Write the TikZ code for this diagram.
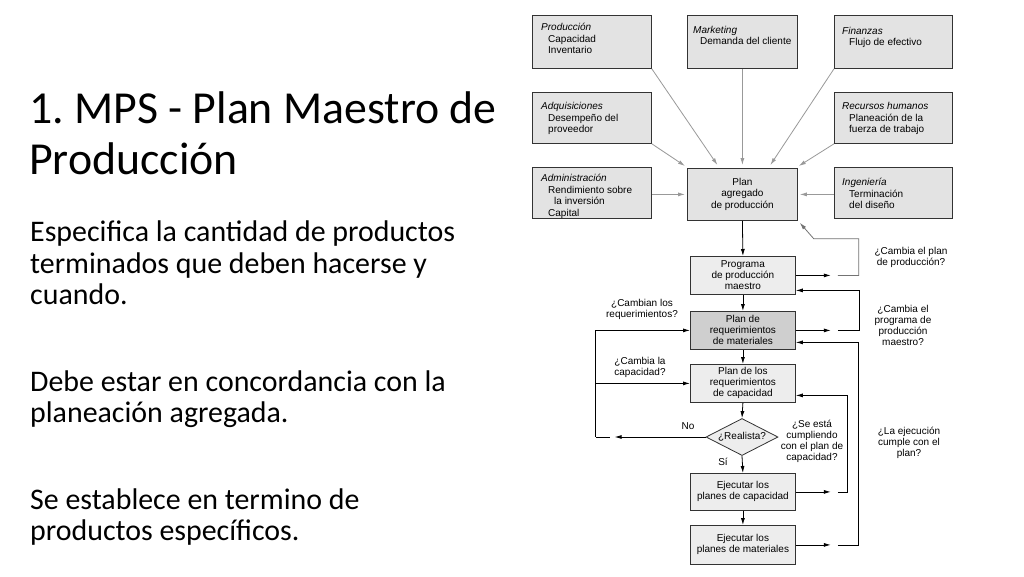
\documentclass[tikz,border=0pt]{standalone}
\usepackage{fontspec}
\setmainfont{Carlito}
\newfontfamily\hv{Liberation Sans}
\usetikzlibrary{arrows.meta,shapes.geometric}
\definecolor{topfill}{gray}{0.89}
\definecolor{lowfill}{gray}{0.93}
\definecolor{prmfill}{gray}{0.81}
\definecolor{edge}{gray}{0.2}
\definecolor{grayarrow}{gray}{0.6}
\definecolor{loopgray}{gray}{0.45}
\tikzset{
  tbox/.style={draw=edge, fill=topfill, line width=0.8pt, inner sep=0pt, anchor=north west},
  lbox/.style={draw=edge, fill=lowfill, line width=0.8pt, inner sep=0pt, anchor=north west,
    font=\hv\fontsize{10}{11}\selectfont, align=center},
  btxt/.style={inner sep=0pt, anchor=north west, align=left,
    font=\hv\fontsize{10}{11.5}\selectfont, execute at begin node=\strut},
  lab/.style={inner sep=0pt, align=center, font=\hv\fontsize{10}{11}\selectfont},
  ttl/.style={inner sep=0pt, anchor=base west, font=\fontsize{45.8}{51}\selectfont},
  bdy/.style={inner sep=0pt, anchor=base west, font=\fontsize{29.9}{32}\selectfont},
  garr/.style={draw=grayarrow, line width=0.8pt, -{Latex[length=7pt,width=4pt]}},
  karr/.style={draw=black, line width=0.8pt, -{Latex[length=7pt,width=4pt]}},
  kline/.style={draw=black, line width=0.8pt},
}
\frenchspacing
\begin{document}
\begin{tikzpicture}[x=1pt,y=-1pt]
\useasboundingbox[fill=white] (0,0) rectangle (1024,576);

% left text
\node[ttl] (t1) at (29,123) {1. MPS - Plan Maestro de};
\node[ttl] (t2) at (29,174) {Producción};
\node[bdy] (b1) at (30,241) {Especifica la cantidad de productos};
\node[bdy] (b2) at (30,273) {terminados que deben hacerse y};
\node[bdy] (b3) at (30,304) {cuando.};
\node[bdy] (b4) at (30,391) {Debe estar en concordancia con la};
\node[bdy] (b5) at (30,422) {planeación agregada.};
\node[bdy] (b6) at (30,509) {Se establece en termino de};
\node[bdy] (b7) at (30,540) {productos específicos.};

% top boxes
\node[tbox, minimum width=119pt, minimum height=53pt] (prod) at (532,15) {};
\node[tbox, minimum width=110pt, minimum height=53pt] (mkt) at (687,15) {};
\node[tbox, minimum width=118pt, minimum height=53pt] (fin) at (834,15) {};
\node[tbox, minimum width=119pt, minimum height=51pt] (adq) at (532,92) {};
\node[tbox, minimum width=118pt, minimum height=51pt] (rh) at (834,92) {};
\node[tbox, minimum width=119pt, minimum height=51pt] (adm) at (532,167) {};
\node[tbox, minimum width=110pt, minimum height=52pt, font=\hv\fontsize{10}{11.5}\selectfont, align=center] (plan) at (687,168) {Plan\\agregado\\de producción};
\node[tbox, minimum width=118pt, minimum height=51pt] (ing) at (834,167) {};

\node[btxt] (prodt) at ([xshift=9pt,yshift=-8.1pt]prod.north west) {\textit{Producción}\\\hspace*{7pt}Capacidad\\\hspace*{7pt}Inventario};
\node[btxt] (mktt) at ([xshift=6pt,yshift=-10.8pt]mkt.north west) {\textit{Marketing}\\\hspace*{7pt}Demanda del cliente};
\node[btxt] (fint) at ([xshift=8pt,yshift=-11.8pt]fin.north west) {\textit{Finanzas}\\\hspace*{7pt}Flujo de efectivo};
\node[btxt] (adqt) at ([xshift=9pt,yshift=-10.2pt]adq.north west) {\textit{Adquisiciones}\\\hspace*{7pt}Desempeño del\\\hspace*{7pt}proveedor};
\node[btxt] (rht) at ([xshift=8pt,yshift=-10.2pt]rh.north west) {\textit{Recursos humanos}\\\hspace*{7pt}Planeación de la\\\hspace*{7pt}fuerza de trabajo};
\node[btxt] (admt) at ([xshift=9pt,yshift=-7.4pt]adm.north west) {\textit{Administración}\\\hspace*{7pt}Rendimiento sobre\\\hspace*{13pt}la inversión\\\hspace*{7pt}Capital};
\node[btxt] (ingt) at ([xshift=8pt,yshift=-11.1pt]ing.north west) {\textit{Ingeniería}\\\hspace*{7pt}Terminación\\\hspace*{7pt}del diseño};

% gray arrows
\draw[garr] (prod.south east) -- ([xshift=-25pt,yshift=3pt]plan.north);
\draw[garr] (mkt.south) -- ([yshift=3pt]plan.north);
\draw[garr] (fin.south west) -- ([xshift=28pt,yshift=3pt]plan.north);
\draw[garr] (adq.south east) -- ([xshift=-2pt,yshift=2pt]plan.north west);
\draw[garr] (rh.south west) -- ([xshift=1pt,yshift=2pt]plan.north east);
\draw[garr] (plan.west -| adm.east) -- ([xshift=-2pt]plan.west);
\draw[garr] (plan.east -| ing.west) -- ([xshift=2pt]plan.east);

% lower flow
\node[lbox, minimum width=105pt, minimum height=38pt] (prog) at (690,256) {Programa\\de producción\\maestro};
\node[lbox, fill=prmfill, minimum width=105pt, minimum height=38pt] (prm) at (690,311) {Plan de\\requerimientos\\de materiales};
\node[lbox, minimum width=105pt, minimum height=38pt] (prc) at (690,364) {Plan de los\\requerimientos\\de capacidad};
\node[diamond, aspect=2, draw=edge, fill=lowfill, line width=0.8pt, inner sep=0pt,
  minimum width=72pt, minimum height=37pt, font=\hv\fontsize{10}{11}\selectfont] (real) at (742,437) {¿Realista?};
\node[lbox, minimum width=105pt, minimum height=37pt] (ec) at (690,473) {Ejecutar los\\planes de capacidad};
\node[lbox, minimum width=105pt, minimum height=39pt] (em) at (690,525) {Ejecutar los\\planes de materiales};

\draw[karr] (plan.south) -- (prog.north);
\draw[karr] (prog.south) -- (prm.north);
\draw[karr] (prm.south) -- (prc.north);
\draw[karr] (prc.south) -- (real.north);
\draw[karr] (real.south) -- (ec.north);
\draw[karr] (ec.south) -- (em.north);

% loop 1: programa -> plan agregado
\draw[karr] (prog.east) -- ++(35,0);
\draw[draw=loopgray, line width=0.8pt, -{Latex[length=7pt,width=4pt]}] ([xshift=42pt]prog.east) -- ++(21,0) |- ([xshift=16pt,yshift=-18pt]plan.south east) -- ([xshift=2pt,yshift=-2pt]plan.south east);
% loop 2: prm -> programa
\draw[karr] (prm.east) -- ++(35,0);
\draw[karr] ([xshift=42pt]prm.east) -- ++(22,0) |- ([yshift=-15pt]prog.east);
% loop 3: ejecutar materiales -> prm
\draw[karr] (em.east) -- ++(35,0);
\draw[karr] ([xshift=42pt]em.east) -- ++(21,0) |- ([yshift=-12pt]prm.east);
% loop 4: ejecutar capacidad -> prc
\draw[karr] (ec.east) -- ++(35,0);
\draw[karr] ([xshift=42pt]ec.east) -- ++(10,0) |- ([yshift=-12pt]prc.east);
% left loop
\draw[karr] (real.west) -- ([xshift=-91pt]real.west);
\draw[kline] ([xshift=-96pt]real.west) -- ++(-14,0) coordinate (lc);
\draw[karr] (lc) |- (prm.west);
\draw[karr] (lc |- prc.west) -- (prc.west);

% labels
\node[lab] (l1) at (911,257) {¿Cambia el plan\\de producción?};
\node[lab] (l2) at (903,325.5) {¿Cambia el\\programa de\\producción\\maestro?};
\node[lab] (l3) at (642,309.5) {¿Cambian los\\requerimientos?};
\node[lab] (l4) at (640,367.5) {¿Cambia la\\capacidad?};
\node[lab] (l5) at (688,426) {No};
\node[lab] (l6) at (723,462) {Sí};
\node[lab] (l7) at (812,441.5) {¿Se está\\cumpliendo\\con el plan de\\capacidad?};
\node[lab] (l8) at (909,442.5) {¿La ejecución\\cumple con el\\plan?};
\end{tikzpicture}
\end{document}
